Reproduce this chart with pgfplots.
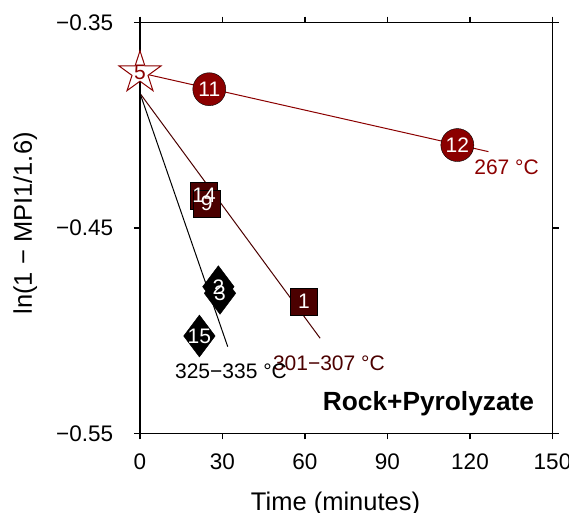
\documentclass[border=0pt]{standalone}
\usepackage{pgfplots}
\pgfplotsset{compat=1.18}
\usepackage{fontspec}
\setmainfont{Liberation Sans}
\definecolor{dred}{RGB}{139,0,0}
\definecolor{mar}{RGB}{75,0,0}

\pgfdeclareplotmark{ostar}{%
  \pgfpathmoveto{\pgfqpointpolar{90}{\pgfplotmarksize}}%
  \pgfpathlineto{\pgfqpointpolar{126}{0.382\pgfplotmarksize}}%
  \pgfpathlineto{\pgfqpointpolar{162}{\pgfplotmarksize}}%
  \pgfpathlineto{\pgfqpointpolar{198}{0.382\pgfplotmarksize}}%
  \pgfpathlineto{\pgfqpointpolar{234}{\pgfplotmarksize}}%
  \pgfpathlineto{\pgfqpointpolar{270}{0.382\pgfplotmarksize}}%
  \pgfpathlineto{\pgfqpointpolar{306}{\pgfplotmarksize}}%
  \pgfpathlineto{\pgfqpointpolar{342}{0.382\pgfplotmarksize}}%
  \pgfpathlineto{\pgfqpointpolar{18}{\pgfplotmarksize}}%
  \pgfpathlineto{\pgfqpointpolar{54}{0.382\pgfplotmarksize}}%
  \pgfpathclose
  \pgfusepathqfillstroke
}

\pgfplotstableread{
x y l
25.2 -0.3824 11
115.4 -0.4096 12
}\circtab
\pgfplotstableread{
x y l
23.3 -0.4343 14
24.3 -0.4380 9
59.6 -0.4859 1
}\sqtab
\pgfplotstableread{
x y l
28.5 -0.4786 2
29.1 -0.4818 3
21.6 -0.5026 15
}\diatab
\pgfplotstableread{
x y l
0 -0.3744 5
}\startab

\begin{document}
\begin{tikzpicture}
\begin{axis}[
  scale only axis, width=412.5bp, height=410.6bp,
  xmin=0, xmax=150, ymin=-0.55, ymax=-0.35,
  axis on top,
  clip=false,
  axis line style={line width=1.4bp},
  tick style={line width=1.2bp, black},
  tick align=outside, major tick length=6bp,
  xtick={0,30,60,90,120,150}, xticklabels={0,30,60,90,120,150},
  ytick={-0.55,-0.45,-0.35}, yticklabels={−0.55,−0.45,−0.35},
  minor tick num=0,
  tick label style={font=\fontsize{22.5bp}{27bp}\selectfont, inner sep=0pt},
  xticklabel style={anchor=north, yshift=-14bp},
  yticklabel style={anchor=east, xshift=-20.7bp},
  xlabel={Time (minutes)}, ylabel={ln(1 − MPI1/1.6)},
  label style={font=\fontsize{25.5bp}{30bp}\selectfont, inner sep=0pt},
  xlabel style={at={([yshift=-77bp]rel axis cs:0.474,0)}, anchor=base},
  ylabel style={at={([xshift=-108.1bp]rel axis cs:0,0.5114)}, anchor=base, rotate=0},
  lbl/.style={draw=none, mark=none, forget plot,
    nodes near coords, point meta=explicit symbolic,
    nodes near coords style={anchor=center, text=#1, inner sep=0pt,
      font=\fontsize{21bp}{25bp}\selectfont}},
]
\addplot[dred, line width=1bp] coordinates {(0,-0.3744) (126.7,-0.4128)};
\addplot[mar, line width=1bp] coordinates {(0,-0.3844) (65.5,-0.5037)};
\addplot[black, line width=1bp] coordinates {(0,-0.3844) (31.9,-0.5078)};

\addplot[only marks, mark=*, mark size=16.5bp,
  mark options={fill=dred, draw=none}] table {\circtab};
\addplot[only marks, mark=square*, mark size=13.5bp,
  mark options={fill=mar, draw=none}] table {\sqtab};
\addplot[only marks, mark=diamond*, mark size=21bp,
  mark options={fill=black, draw=none}] table {\diatab};
\addplot[only marks, mark=ostar, mark size=22bp,
  mark options={fill=white, draw=dred, line width=1bp}] table {\startab};

\addplot[lbl=white] table[meta=l] {\circtab};
\addplot[lbl=white] table[meta=l] {\sqtab};
\addplot[lbl=white] table[meta=l] {\diatab};
\addplot[lbl=dred] table[meta=l] {\startab};

\node[anchor=west, inner sep=0pt, text=dred, font=\fontsize{21bp}{25bp}\selectfont]
  at (axis cs:121.5,-0.4203) {267 °C};
\node[anchor=west, inner sep=0pt, text=mar, font=\fontsize{21bp}{25bp}\selectfont]
  at (axis cs:48.3,-0.5159) {301−307 °C};
\node[anchor=west, inner sep=0pt, text=black, font=\fontsize{21bp}{25bp}\selectfont]
  at (axis cs:12.7,-0.5200) {325−335 °C};
\node[anchor=center, inner sep=0pt, font=\fontsize{26.3bp}{31bp}\selectfont\bfseries]
  at (axis cs:104.9,-0.5357) {Rock+Pyrolyzate};

\coordinate (bbsw) at ([xshift=-140bp, yshift=-79.7bp]rel axis cs:0,0);
\coordinate (bbne) at ([xshift=16.5bp, yshift=22.7bp]rel axis cs:1,1);
\end{axis}
\pgfresetboundingbox
\useasboundingbox (bbsw) rectangle (bbne);
\end{tikzpicture}
\end{document}
